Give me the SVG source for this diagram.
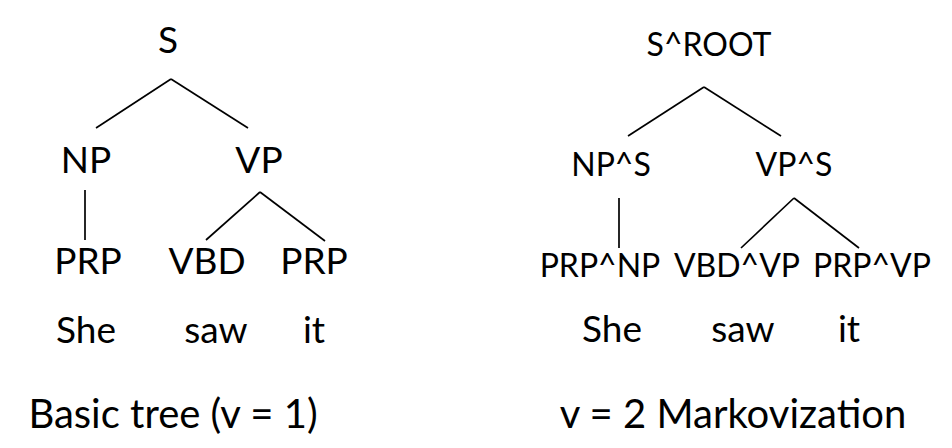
<svg xmlns="http://www.w3.org/2000/svg" width="952" height="448" viewBox="0 0 952 448">
<style>
text{font-family:Lato,"Open Sans","Liberation Sans",sans-serif;fill:#000;text-anchor:middle}
.l{font-size:37px}
.r{font-size:32px}
.w{font-size:37px}
.c{font-size:40px}
.e line{stroke:#000;stroke-width:1.7;fill:none}
</style>
<rect width="952" height="448" fill="#fff"/>
<g id="connectors" class="e">
<line x1="171" y1="79" x2="96" y2="128"/>
<line x1="171" y1="79" x2="248" y2="128"/>
<line x1="85" y1="190" x2="85" y2="240"/>
<line x1="260" y1="192" x2="206" y2="240"/>
<line x1="260" y1="192" x2="325" y2="241"/>
<line x1="704" y1="87" x2="628" y2="136"/>
<line x1="704" y1="87" x2="781" y2="136"/>
<line x1="619" y1="198" x2="619" y2="248"/>
<line x1="794" y1="198" x2="741" y2="248"/>
<line x1="794" y1="198" x2="859" y2="248"/>
</g>
<g id="left-S"><text class="l" x="168" y="53">S</text></g>
<g id="left-NP"><text class="l" x="86" y="173">NP</text></g>
<g id="left-VP"><text class="l" x="259" y="173">VP</text></g>
<g id="left-PRP1"><text class="l" x="88" y="274">PRP</text></g>
<g id="left-VBD"><text class="l" x="207" y="274">VBD</text></g>
<g id="left-PRP2"><text class="l" x="314" y="274">PRP</text></g>
<g id="left-She"><text class="w" x="86" y="343">She</text></g>
<g id="left-saw"><text class="w" x="216" y="343">saw</text></g>
<g id="left-it"><text class="w" x="314" y="343">it</text></g>
<g id="left-caption"><text class="c" x="173" y="428">Basic tree (v = 1)</text></g>
<g id="right-S"><text class="r" x="709" y="56">S^ROOT</text></g>
<g id="right-NP"><text class="r" x="611" y="176">NP^S</text></g>
<g id="right-VP"><text class="r" x="794" y="176">VP^S</text></g>
<g id="right-PRP1"><text class="r" x="600" y="277">PRP^NP</text></g>
<g id="right-VBD"><text class="r" x="737" y="277">VBD^VP</text></g>
<g id="right-PRP2"><text class="r" x="872" y="277">PRP^VP</text></g>
<g id="right-She"><text class="w" x="612" y="342">She</text></g>
<g id="right-saw"><text class="w" x="743" y="342">saw</text></g>
<g id="right-it"><text class="w" x="849" y="342">it</text></g>
<g id="right-caption"><text class="c" x="733" y="428">v = 2 Markovization</text></g>
</svg>
